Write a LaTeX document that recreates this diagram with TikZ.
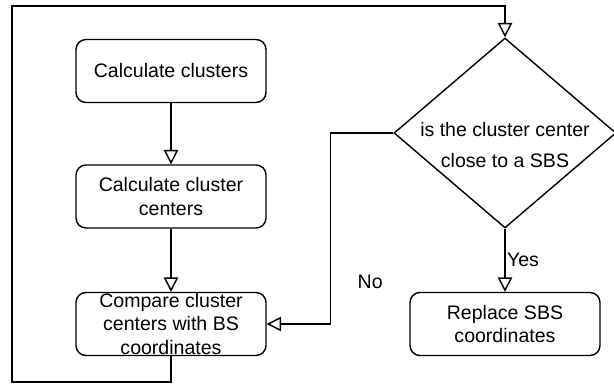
\documentclass[tikz,border=0pt]{standalone}
\usepackage{fontspec}
\setmainfont{Liberation Sans}
\usepackage{tikz}
\usetikzlibrary{arrows.meta, positioning, shapes.geometric}

\begin{document}
\begin{tikzpicture}[
          font=\fontsize{13.9}{16.4}\selectfont,
          line width=1pt,
          stepbox/.style={draw, rounded corners=2.5mm, minimum width=4.75cm, minimum height=1.575cm, inner ysep=0pt, align=center},
          decision/.style={draw, diamond, minimum width=5.55cm, minimum height=4.75cm, inner sep=0pt},
          arr/.style={-{Triangle[open, length=3.6mm, width=3.6mm]}}
        ]
          \useasboundingbox (0,0) rectangle (15.35,9.675);

          \node[stepbox] (clusters) at (4.275,7.9) {Calculate clusters};
          \node[stepbox] (centers) at (4.275,4.7625) {Calculate cluster\\centers};
          \node[stepbox] (compare) at (4.275,1.575) {Compare cluster\\centers with BS\\coordinates};
          \node[decision, label={[align=center, yshift=-0.3cm]center:is the cluster center\\[2mm]close to a SBS}] (close) at (12.625,6.35) {};
          \node[stepbox] (replace) at (12.625,1.575) {Replace SBS\\coordinates};

          \coordinate (loopbl) at (0.3,0.125);
          \coordinate (looptr) at (12.625,9.525);

          \draw[arr] (clusters) -- (centers);
          \draw[arr] (centers) -- (compare);
          \draw[arr] (close.south) -- (replace.north) node[pos=0.5, right, inner sep=1pt] {Yes};
          \draw[arr] (close.west) -- ++(-1.575,0) |- (compare.east) node[pos=0.39, right=5.5mm] {No};
          \draw[arr] (compare.south) |- (loopbl) |- (looptr) -- (close.north);
        \end{tikzpicture}
\end{document}
